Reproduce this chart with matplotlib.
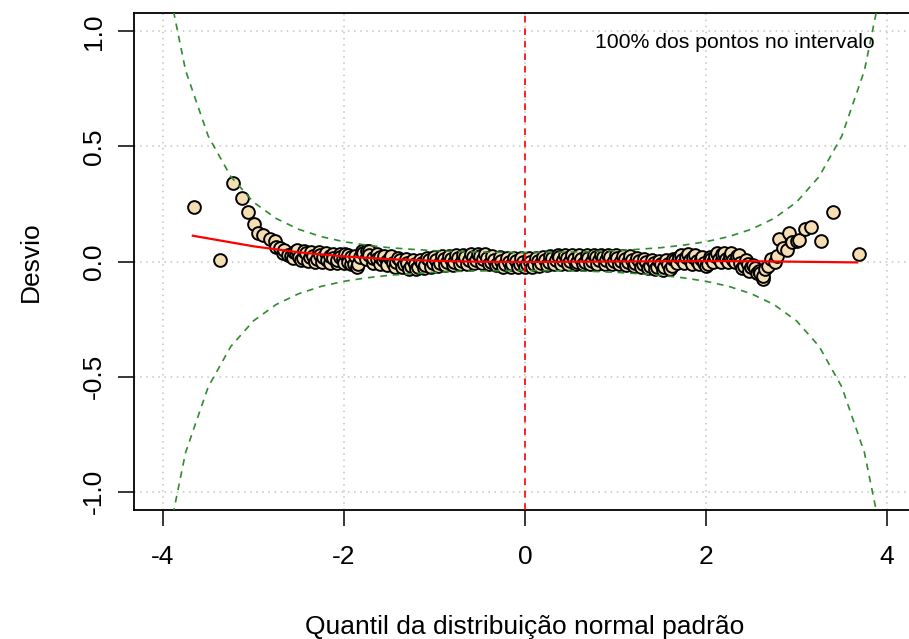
import matplotlib
matplotlib.use("Agg")
import matplotlib.pyplot as plt

plt.rcParams['font.family'] = ['Liberation Sans', 'DejaVu Sans']

# ---- data ----
pts_x = [-3.66, -3.37, -3.23, -3.13, -3.06, -2.99, -2.95, -2.89, -2.82, -2.76, -2.75, -2.71,
         -2.67, -2.66, -2.62, -2.59, -2.55, -2.53, -2.50, -2.45, -2.42, -2.38, -2.34, -2.30,
         -2.27, -2.23, -2.19, -2.16, -2.12, -2.08, -2.04, -2.01, -1.99, -1.96, -1.92, -1.89,
         -1.86, -1.82, -1.79, -1.75, -1.72, -1.68, -1.64, -1.60, -1.57, -1.53, -1.49, -1.46,
         -1.42, -1.38, -1.34, -1.30, -1.26, -1.22, -1.18, -1.14, -1.10, -1.06, -1.02, -0.98,
         -0.94, -0.90, -0.86, -0.82, -0.78, -0.74, -0.70, -0.66, -0.62, -0.58, -0.54, -0.50,
         -0.46, -0.42, -0.38, -0.34, -0.30, -0.26, -0.22, -0.18, -0.14, -0.10, -0.06, -0.02,
         0.02, 0.06, 0.10, 0.14, 0.18, 0.22, 0.26, 0.30, 0.34, 0.38, 0.42, 0.46,
         0.50, 0.54, 0.58, 0.62, 0.66, 0.70, 0.74, 0.78, 0.82, 0.86, 0.90, 0.94,
         0.98, 1.02, 1.06, 1.10, 1.14, 1.18, 1.22, 1.26, 1.30, 1.34, 1.38, 1.42,
         1.46, 1.50, 1.54, 1.58, 1.62, 1.66, 1.70, 1.74, 1.78, 1.82, 1.86, 1.90,
         1.94, 1.98, 2.02, 2.06, 2.10, 2.14, 2.18, 2.22, 2.26, 2.30, 2.34, 2.38,
         2.42, 2.46, 2.50, 2.54, 2.58, 2.60, 2.63, 2.63, 2.65, 2.68, 2.72, 2.76,
         2.78, 2.81, 2.85, 2.89, 2.92, 2.95, 3.00, 3.03, 3.09, 3.16, 3.27, 3.40, 3.69]
pts_y = [0.237, 0.007, 0.343, 0.275, 0.217, 0.161, 0.126, 0.114, 0.097, 0.090, 0.065, 0.060,
         0.035, 0.050, 0.030, 0.024, 0.040, 0.039, 0.020, 0.014, 0.039, 0.020, 0.024, 0.010,
         0.030, 0.020, 0.008, 0.025, 0.016, 0.005, 0.020, 0.010, 0.032, 0.000, 0.020, -0.010,
         -0.022, 0.020, 0.039, 0.046, 0.030, 0.015, 0.010, 0.020, 0.005, 0.003, 0.015, -0.005,
         -0.004, 0.005, -0.012, -0.005, -0.020, -0.010, -0.025, -0.005, -0.015, 0.005, -0.008, 0.008,
         -0.005, 0.010, 0.000, 0.012, -0.002, 0.015, 0.002, 0.018, 0.005, 0.020, 0.008, 0.022,
         0.010, 0.015, 0.000, 0.008, -0.008, 0.002, -0.012, 0.000, -0.012, 0.002, -0.012, 0.000,
         -0.012, 0.000, -0.010, 0.003, -0.008, 0.008, -0.002, 0.015, 0.005, 0.018, 0.006, 0.016,
         0.002, 0.012, -0.003, 0.010, 0.000, 0.015, 0.003, 0.018, 0.005, 0.020, 0.006, 0.018,
         0.004, 0.016, 0.002, 0.012, -0.004, 0.008, -0.008, 0.003, -0.012, -0.002, -0.018, -0.008,
         -0.024, -0.012, -0.026, -0.010, -0.018, 0.005, 0.018, 0.008, 0.020, 0.006, 0.018, 0.004,
         0.012, -0.006, -0.012, 0.010, 0.025, 0.012, 0.032, 0.010, 0.022, 0.005, 0.024, -0.005,
         -0.019, -0.010, -0.026, -0.030, -0.041, -0.050, -0.077, -0.063, -0.033, -0.020, 0.010, 0.000,
         0.024, 0.097, 0.060, 0.049, 0.126, 0.085, 0.090, 0.093, 0.140, 0.148, 0.090, 0.213, 0.032]

# second layer of the dense central "worm"
worm_x = [-2.56, -2.52, -2.48, -2.44, -2.40, -2.36, -2.32, -2.28, -2.24, -2.20, -2.16, -2.12,
          -2.08, -2.04, -2.00, -1.96, -1.92, -1.88, -1.84, -1.80, -1.76, -1.72, -1.68, -1.64,
          -1.60, -1.56, -1.52, -1.48, -1.44, -1.40, -1.36, -1.32, -1.28, -1.24, -1.20, -1.16,
          -1.12, -1.08, -1.04, -1.00, -0.96, -0.92, -0.88, -0.84, -0.80, -0.76, -0.72, -0.68,
          -0.64, -0.60, -0.56, -0.52, -0.48, -0.44, -0.40, -0.36, -0.32, -0.28, -0.24, -0.20,
          -0.16, -0.12, -0.08, -0.04, 0.00, 0.04, 0.08, 0.12, 0.16, 0.20, 0.24, 0.28,
          0.32, 0.36, 0.40, 0.44, 0.48, 0.52, 0.56, 0.60, 0.64, 0.68, 0.72, 0.76,
          0.80, 0.84, 0.88, 0.92, 0.96, 1.00, 1.04, 1.08, 1.12, 1.16, 1.20, 1.24,
          1.28, 1.32, 1.36, 1.40, 1.44, 1.48, 1.52, 1.56, 1.60, 1.64, 1.68, 1.72,
          1.76, 1.80, 1.84, 1.88, 1.92, 1.96, 2.00, 2.04, 2.08, 2.12, 2.16, 2.20,
          2.24, 2.28, 2.32, 2.36, 2.40, 2.44, 2.48, 2.52, 2.56]
worm_y = [0.015, 0.048, 0.005, 0.045, 0.004, 0.042, 0.000, 0.040, -0.002, 0.036, -0.005, 0.033,
          -0.008, 0.032, -0.008, 0.030, -0.012, 0.025, -0.010, 0.045, 0.010, 0.045, -0.005, 0.032,
          -0.010, 0.026, -0.016, 0.022, -0.022, 0.016, -0.026, 0.010, -0.032, 0.006, -0.034, 0.008,
          -0.028, 0.016, -0.022, 0.020, -0.018, 0.023, -0.016, 0.025, -0.014, 0.027, -0.012, 0.029,
          -0.010, 0.031, -0.008, 0.034, -0.006, 0.032, -0.010, 0.025, -0.016, 0.018, -0.022, 0.015,
          -0.025, 0.015, -0.025, 0.015, -0.025, 0.015, -0.024, 0.017, -0.020, 0.020, -0.016, 0.025,
          -0.012, 0.030, -0.010, 0.030, -0.012, 0.028, -0.012, 0.028, -0.012, 0.028, -0.011, 0.030,
          -0.010, 0.030, -0.010, 0.030, -0.010, 0.030, -0.012, 0.026, -0.016, 0.022, -0.020, 0.016,
          -0.024, 0.012, -0.028, 0.008, -0.034, 0.004, -0.036, 0.005, -0.032, 0.012, -0.008, 0.030,
          -0.008, 0.032, -0.010, 0.030, -0.012, 0.020, -0.020, 0.018, 0.000, 0.038, -0.002, 0.038,
          -0.002, 0.036, -0.004, 0.030, -0.030, 0.005, -0.040, -0.015, -0.050]

fit_x = [-3.67, -3.0, -2.5, -2.0, -1.5, -1.0, -0.5, 0.0, 0.5, 1.0, 1.5, 2.0, 2.5, 3.0, 3.67]
fit_y = [0.112, 0.066, 0.040, 0.022, 0.010, 0.003, -0.001, -0.002, -0.001, 0.000, 0.001, 0.002,
         0.001, -0.001, -0.004]

band_z = [-4.0, -3.75, -3.5, -3.25, -3.0, -2.75, -2.5, -2.25, -2.0, -1.75, -1.5, -1.25, -1.0,
          -0.75, -0.5, -0.25, 0.0, 0.25, 0.5, 0.75, 1.0, 1.25, 1.5, 1.75, 2.0, 2.25, 2.5, 2.75,
          3.0, 3.25, 3.5, 3.75, 4.0]
band_hi = [1.313, 0.830, 0.545, 0.369, 0.258, 0.187, 0.140, 0.108, 0.086, 0.071, 0.060, 0.053,
           0.047, 0.043, 0.041, 0.040, 0.039, 0.040, 0.041, 0.043, 0.047, 0.053, 0.060, 0.071,
           0.086, 0.108, 0.140, 0.187, 0.258, 0.369, 0.545, 0.830, 1.313]
band_lo = [-v for v in band_hi]

x_ticks = [-4, -2, 0, 2, 4]
y_ticks = [-1.0, -0.5, 0.0, 0.5, 1.0]
x_tick_labels = ["-4", "-2", "0", "2", "4"]
y_tick_labels = ["-1.0", "-0.5", "0.0", "0.5", "1.0"]
annot = "100% dos pontos no intervalo"
xlabel = "Quantil da distribuição normal padrão"
ylabel = "Desvio"

# ---- figure ----
fig = plt.figure(figsize=(9.09, 6.39), dpi=100)
W, H = 909, 639
ax = fig.add_axes([134 / W, (H - 510) / H, 782 / W, 497 / H])
ax.set_xlim(-4.32, 4.32)
ax.set_ylim(-1.08, 1.08)

for t in x_ticks:
    ax.axvline(t, color='#C4C4C4', lw=1.1, ls=(0, (1, 3)), zorder=0)
for t in y_ticks:
    ax.axhline(t, color='#C4C4C4', lw=1.1, ls=(0, (1, 3)), zorder=0)

all_x = worm_x + pts_x
all_y = worm_y + pts_y
order = sorted(range(len(all_x)), key=lambda i: all_x[i])
ax.scatter([all_x[i] for i in order], [all_y[i] for i in order], s=84,
           facecolor='#F5DEB3', edgecolor='black', linewidths=1.4, zorder=2)

ax.plot(band_z, band_hi, color='#2E8B2E', lw=1.2, ls=(0, (4, 3.5)), zorder=3)
ax.plot(band_z, band_lo, color='#2E8B2E', lw=1.2, ls=(0, (4, 3.5)), zorder=3)
ax.plot(fit_x, fit_y, color='red', lw=1.6, zorder=4)
ax.axvline(0, color='red', lw=1.2, ls=(0, (4, 3.5)), zorder=4)

ax.text(3.86, 0.953, annot, ha='right', va='center', fontsize=15.3)

ax.set_xticks(x_ticks)
ax.set_xticklabels(x_tick_labels, fontsize=19)
ax.set_yticks(y_ticks)
ax.set_yticklabels(y_tick_labels, fontsize=19, rotation=90, va='center')
ax.tick_params(axis='both', length=11.5, width=1.1, color='black')
ax.tick_params(axis='x', pad=14)
ax.tick_params(axis='y', pad=9)
for sp in ax.spines.values():
    sp.set_linewidth(1.3)

ax.set_xlabel(xlabel, fontsize=19, labelpad=33)
ax.set_ylabel(ylabel, fontsize=19, labelpad=28)

fig.savefig("out.png", dpi=100)
